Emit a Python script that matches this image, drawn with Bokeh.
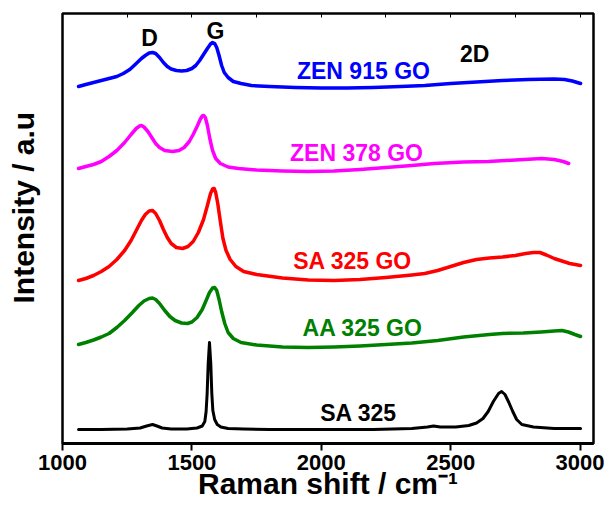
from bokeh.plotting import figure
from bokeh.models import Range1d, LinearAxis, FixedTicker, Label, CustomLabelingPolicy
from bokeh.embed import file_html
from bokeh.resources import INLINE

# ---- data (Raman shift in cm-1, intensity in arbitrary units, offset per trace) ----
zen915go_x = [1062, 1090, 1120, 1150, 1180, 1210, 1235, 1260, 1285, 1305, 1320, 1335, 1348,
              1360, 1375, 1390, 1405, 1420, 1440, 1460, 1480, 1500, 1515, 1530, 1545, 1560,
              1572, 1580, 1588, 1596, 1605, 1615, 1625, 1640, 1660, 1690, 1730, 1800, 1900,
              2000, 2100, 2200, 2307, 2400, 2500, 2600, 2700, 2800, 2900, 2940, 2970, 3002]
zen915go_y = [357, 359, 361, 363, 365, 367, 370, 374, 380, 385, 388, 390.5, 391,
              390, 386, 381, 377, 374.5, 373, 372.5, 373, 375, 378, 383, 389, 395,
              399.5, 401, 400, 396, 388, 378, 371, 366, 362, 360, 358, 357, 356,
              355.5, 355.5, 356, 357, 358, 360, 361.5, 363, 364, 364.5, 364, 362.5, 360]

zen378go_x = [1062, 1090, 1120, 1150, 1180, 1210, 1240, 1265, 1285, 1298, 1305, 1315, 1330,
              1345, 1360, 1375, 1395, 1425, 1450, 1470, 1490, 1505, 1520, 1532, 1540, 1546,
              1552, 1560, 1570, 1580, 1592, 1610, 1640, 1680, 1750, 1850, 1950, 2050, 2150,
              2250, 2350, 2436, 2550, 2646, 2750, 2852, 2900, 2935, 2956]
zen378go_y = [275, 277, 279, 282, 287, 293, 301, 309, 315, 317.5, 318, 316.5, 312,
              306, 300, 296, 293, 292, 293, 296, 302, 309, 317, 324, 327.5, 328,
              326, 318, 304, 293, 285, 280, 276.5, 275, 273.5, 272.5, 272, 272.5, 274,
              276, 278, 280, 281.5, 282, 283.5, 285, 284, 282, 280]

sa325go_x = [1062, 1090, 1120, 1150, 1180, 1210, 1240, 1265, 1285, 1305, 1320, 1335, 1348,
             1360, 1375, 1390, 1405, 1420, 1440, 1464, 1485, 1505, 1525, 1545, 1560, 1572,
             1580, 1586, 1592, 1600, 1610, 1620, 1632, 1648, 1670, 1700, 1750, 1850, 1950,
             2050, 2150, 2250, 2350, 2400, 2450, 2500, 2550, 2600, 2650, 2700, 2750, 2790,
             2820, 2845, 2870, 2900, 2930, 2960, 3002]
sa325go_y = [163, 165, 168, 172, 177, 184, 193, 203, 213, 223, 229, 232.5, 233,
             230, 223, 214, 206, 200, 196, 195, 197, 202, 211, 224, 238, 250,
             254.5, 255, 251, 240, 222, 205, 193, 184, 177, 172, 169, 165.5, 163.5,
             163, 164, 166, 168.5, 170, 173, 177, 181, 184, 185.5, 186.5, 188, 190,
             191, 191, 188.5, 185, 182.5, 180, 178]

aa325go_x = [1062, 1090, 1120, 1150, 1180, 1210, 1240, 1270, 1295, 1315, 1335, 1348, 1360,
             1375, 1395, 1415, 1435, 1460, 1483, 1500, 1520, 1540, 1555, 1568, 1580, 1588,
             1596, 1605, 1615, 1627, 1640, 1660, 1690, 1750, 1850, 1950, 2050, 2150, 2250,
             2350, 2450, 2550, 2650, 2700, 2780, 2850, 2900, 2930, 2955, 2980, 3002]
aa325go_y = [99, 101, 103.5, 106.5, 110, 116, 123, 131, 138, 142.5, 145, 145.5, 144,
             140, 133, 127, 123, 120.5, 120, 121.5, 126, 134, 143, 151, 155.5, 156,
             153, 144, 132, 120, 111, 105, 101, 98.5, 96.5, 96, 96.5, 97.5, 99,
             100.5, 103, 106.5, 109, 110, 110.5, 111.5, 112.5, 113, 111.5, 109, 107]

sa325_x = [1062, 1150, 1250, 1300, 1325, 1348, 1365, 1385, 1420, 1480, 1520, 1540, 1550,
           1555, 1559, 1563, 1568, 1573, 1577, 1581, 1588, 1598, 1612, 1640, 1700, 1800,
           2000, 2200, 2350, 2410, 2434, 2460, 2520, 2570, 2600, 2625, 2645, 2665, 2685,
           2697, 2710, 2725, 2740, 2755, 2775, 2820, 2900, 3002]
sa325_y = [14, 14, 14.5, 15.5, 17.5, 19, 17.5, 15.5, 14.5, 14.5, 15.5, 17.5, 22,
           32, 50, 80, 101, 80, 50, 33, 24, 19, 16.5, 15, 14.5, 14,
           14, 14, 15, 16.5, 17.5, 16.5, 16.5, 18, 20.5, 25, 32, 42, 50,
           52, 49, 41, 32, 24, 19, 16.5, 15, 15]

series_names = ["ZEN 915 GO", "ZEN 378 GO", "SA 325 GO", "AA 325 GO", "SA 325"]
series_colors = ["#0000FF", "#FF00FF", "#FF0000", "#008000", "#000000"]
band_names = ["D", "G", "2D"]
x_ticks = [1000, 1500, 2000, 2500, 3000]
top_ticks = [1000, 1250, 1500, 1750, 2000, 2250, 2500, 2750, 3000]

FONT = "Liberation Sans"

p = figure(width=608, height=506, frame_width=531, frame_height=430,
           output_backend="svg", toolbar_location=None,
           x_range=Range1d(1000, 3052), y_range=Range1d(0, 430),
           min_border_left=62, min_border_right=15, min_border_top=13, min_border_bottom=60,
           background_fill_color="white", border_fill_color="white")
p.grid.visible = False
p.outline_line_color = "black"
p.outline_line_width = 2.5

# bottom axis
xa = p.xaxis[0]
xa.ticker = FixedTicker(ticks=x_ticks)
xa.axis_line_width = 3
xa.axis_line_color = "black"
xa.major_tick_line_width = 2
xa.major_tick_out = 7
xa.major_tick_in = 0
xa.minor_tick_line_color = None
xa.major_label_text_font = FONT
xa.major_label_text_font_style = "bold"
xa.major_label_text_font_size = "22px"
xa.major_label_text_color = "black"
xa.major_label_standoff = 4
xa.axis_label = "Raman shift / cm\u207b\u00b9"
xa.axis_label_text_font = FONT
xa.axis_label_text_font_style = "bold"
xa.axis_label_text_font_size = "30px"
xa.axis_label_text_color = "black"
xa.axis_label_standoff = -6

# left axis: only a title (leading no-break spaces lift it slightly above centre)
ya = p.yaxis[0]
ya.ticker = FixedTicker(ticks=[])
ya.axis_line_color = None
ya.major_tick_line_color = None
ya.minor_tick_line_color = None
ya.axis_label = "\u00a0" * 5 + "Intensity / a.u"
ya.axis_label_text_font = FONT
ya.axis_label_text_font_style = "bold"
ya.axis_label_text_font_size = "30px"
ya.axis_label_text_color = "black"
ya.axis_label_standoff = 23

# top frame ticks (no labels)
top = LinearAxis(ticker=FixedTicker(ticks=top_ticks))
top.axis_line_color = None
top.major_tick_in = 4
top.major_tick_out = 0
top.major_tick_line_width = 1
top.minor_tick_line_color = None
top.major_label_text_font_size = "1px"
top.major_label_standoff = 0
top.major_label_policy = CustomLabelingPolicy(code="""
    for (const i of indices) { indices.unset(i) }
    return indices
""")
p.add_layout(top, "above")

data = [(zen915go_x, zen915go_y), (zen378go_x, zen378go_y), (sa325go_x, sa325go_y),
        (aa325go_x, aa325go_y), (sa325_x, sa325_y)]
for (xs, ys), c in zip(data, series_colors):
    p.line(xs, ys, line_color=c, line_width=3.5 if c != "#000000" else 3,
           line_join="round", line_cap="round")

# series labels
lab_pos = [(2163, 373), (2136, 291), (2121, 183), (2160, 116), (2144, 31)]
for name, c, (lx, ly) in zip(series_names, series_colors, lab_pos):
    p.add_layout(Label(x=lx, y=ly, text=name, text_color=c, text_font=FONT,
                       text_font_style="bold", text_font_size="23px",
                       text_align="center", text_baseline="middle"))

for t, (lx, ly) in zip(band_names, [(1336, 406), (1591, 413), (2593, 390)]):
    p.add_layout(Label(x=lx, y=ly, text=t, text_color="black", text_font=FONT,
                       text_font_style="bold", text_font_size="23px",
                       text_align="center", text_baseline="middle"))

open("out.html", "w").write(file_html(p, INLINE))
